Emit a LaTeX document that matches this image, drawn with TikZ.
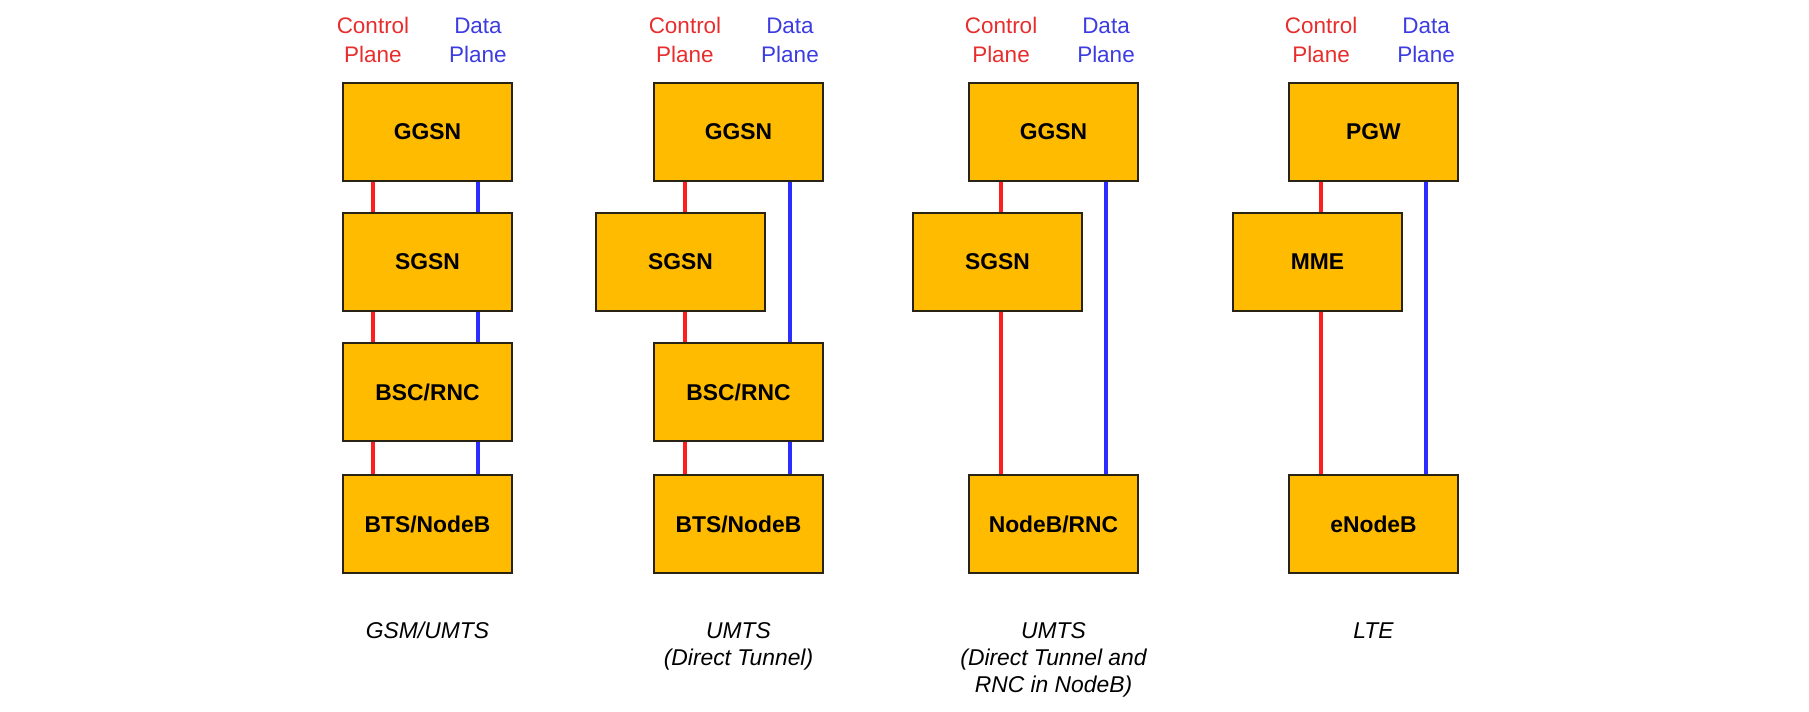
\documentclass[tikz,border=0pt]{standalone}
\usepackage{fontspec}
\setmainfont{Liberation Sans}
\usepackage{tikz}
\usetikzlibrary{calc}
\definecolor{boxorange}{RGB}{255,187,0}
\definecolor{boxline}{RGB}{40,35,20}
\definecolor{cred}{RGB}{255,30,30}
\definecolor{dblue}{RGB}{45,45,255}
\definecolor{ctext}{RGB}{232,45,45}
\definecolor{dtext}{RGB}{60,60,225}

\begin{document}
\begin{tikzpicture}[x=0.02cm,y=-0.02cm,
    netbox/.style={draw=boxline,fill=boxorange,line width=0.9pt,minimum width=3.38cm,minimum height=1.96cm,
                   inner sep=0pt,font=\fontsize{13}{15}\selectfont\bfseries},
    head/.style={align=center,inner sep=0pt,font=\fontsize{12.8}{16.4}\selectfont},
    caption/.style={align=center,inner sep=0pt,anchor=north,font=\fontsize{13}{15.3}\selectfont\itshape},
    cline/.style={cred,line width=2.3pt},
    dline/.style={dblue,line width=2.3pt}]
                      \useasboundingbox (0,0) rectangle (1809,711);
                      % plane headings
                      \foreach \c/\x in {1/373,2/685,3/1001,4/1321}{
                        \node[head,text=ctext](cp\c)at(\x,40){Control\\Plane};
                        \node[head,text=dtext](dp\c)at(\x+105,40){Data\\Plane};}
                      % GSM/UMTS
                      \node[netbox](ggsnA)at(427.5,132){GGSN};
                      \node[netbox](sgsnA)at(427.5,262){SGSN};
                      \node[netbox](bscA)at(427.5,392){BSC/RNC};
                      \node[netbox](btsA)at(427.5,524){BTS/NodeB};
                      \draw[cline](cp1|-ggsnA.south)--(cp1|-sgsnA.north);
                      \draw[cline](cp1|-sgsnA.south)--(cp1|-bscA.north);
                      \draw[cline](cp1|-bscA.south)--(cp1|-btsA.north);
                      \draw[dline](dp1|-ggsnA.south)--(dp1|-sgsnA.north);
                      \draw[dline](dp1|-sgsnA.south)--(dp1|-bscA.north);
                      \draw[dline](dp1|-bscA.south)--(dp1|-btsA.north);
                      \node[caption](capA)at(427.5,622){GSM/UMTS};
                      % UMTS, direct tunnel
                      \node[netbox](ggsnB)at(738.5,132){GGSN};
                      \node[netbox](sgsnB)at(680.5,262){SGSN};
                      \node[netbox](bscB)at(738.5,392){BSC/RNC};
                      \node[netbox](btsB)at(738.5,524){BTS/NodeB};
                      \draw[cline](cp2|-ggsnB.south)--(cp2|-sgsnB.north);
                      \draw[cline](cp2|-sgsnB.south)--(cp2|-bscB.north);
                      \draw[cline](cp2|-bscB.south)--(cp2|-btsB.north);
                      \draw[dline](dp2|-ggsnB.south)--(dp2|-bscB.north);
                      \draw[dline](dp2|-bscB.south)--(dp2|-btsB.north);
                      \node[caption](capB)at(738.5,622){UMTS\\(Direct Tunnel)};
                      % UMTS, direct tunnel and RNC in NodeB
                      \node[netbox](ggsnC)at(1053.5,132){GGSN};
                      \node[netbox](sgsnC)at(997.5,262){SGSN};
                      \node[netbox](rncC)at(1053.5,524){NodeB/RNC};
                      \draw[cline](cp3|-ggsnC.south)--(cp3|-sgsnC.north);
                      \draw[cline](cp3|-sgsnC.south)--(cp3|-rncC.north);
                      \draw[dline](dp3|-ggsnC.south)--(dp3|-rncC.north);
                      \node[caption](capC)at(1053.5,622){UMTS\\(Direct Tunnel and\\RNC in NodeB)};
                      % LTE
                      \node[netbox](pgwD)at(1373.5,132){PGW};
                      \node[netbox](mmeD)at(1317.5,262){MME};
                      \node[netbox](enbD)at(1373.5,524){eNodeB};
                      \draw[cline](cp4|-pgwD.south)--(cp4|-mmeD.north);
                      \draw[cline](cp4|-mmeD.south)--(cp4|-enbD.north);
                      \draw[dline](dp4|-pgwD.south)--(dp4|-enbD.north);
                      \node[caption](capD)at(1373.5,622){LTE};
                  \end{tikzpicture}
\end{document}
